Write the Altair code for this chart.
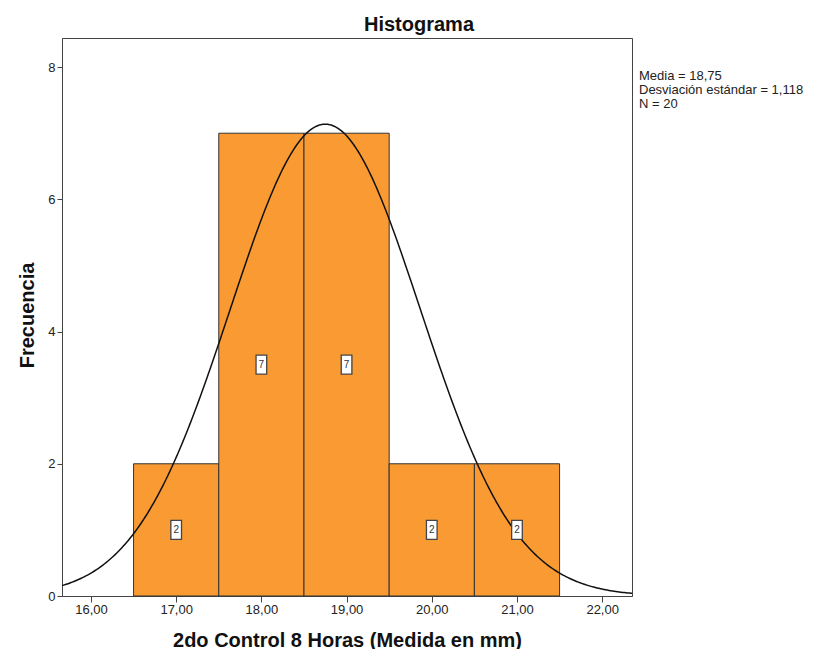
import altair as alt
import pandas as pd

# ---- data ----
bin_left = [16.5, 17.5, 18.5, 19.5, 20.5]
bin_right = [17.5, 18.5, 19.5, 20.5, 21.5]
bin_mid = [17.0, 18.0, 19.0, 20.0, 21.0]
counts = [2, 7, 7, 2, 2]
media = 18.75
desv = 1.118
n_total = 20
bin_width = 1.0
x_ticks = [16, 17, 18, 19, 20, 21, 22]
y_ticks = [0, 2, 4, 6, 8]
stats_lines = ["Media = 18,75", "Desviación estándar = 1,118", "N = 20"]
chart_title = ["Histograma"]
x_domain = [15.66, 22.35]
y_domain = [0, 8.44]

FONT = "Liberation Sans"

bars_df = pd.DataFrame({"left": bin_left, "right": bin_right, "mid": bin_mid,
                        "count": counts, "zero": [0] * len(counts)})
stats_df = pd.DataFrame({"line": stats_lines, "i": list(range(len(stats_lines)))})
title_df = pd.DataFrame({"t": chart_title})

xs = alt.Scale(domain=x_domain, nice=False, zero=False)
ys = alt.Scale(domain=y_domain, nice=False, zero=False)

x_axis = alt.Axis(values=x_ticks, labelExpr="replace(format(datum.value, '.2f'), '.', ',')",
                  labelFontSize=13, labelColor="#222", labelFont=FONT, tickSize=6,
                  labelPadding=1, grid=False, title="2do Control 8 Horas (Medida en mm)",
                  titleFont=FONT, titleFontSize=20, titleFontWeight="bold", titleColor="#111",
                  titleY=50, titleBaseline="alphabetic", domainColor="#444", tickColor="#444")
y_axis = alt.Axis(values=y_ticks, format="d", labelFontSize=13, labelColor="#222",
                  labelFont=FONT, tickSize=5, labelPadding=2, grid=False, title="Frecuencia",
                  titleFont=FONT, titleFontSize=20, titleFontWeight="bold", titleColor="#111",
                  titleX=-29, titleY=277, titleAngle=270, titleBaseline="alphabetic",
                  domainColor="#444", tickColor="#444")

bars = alt.Chart(bars_df).mark_rect(fill="#F99A33", stroke="#333", strokeWidth=1).encode(
    x=alt.X("left:Q", scale=xs, axis=x_axis),
    x2="right:Q",
    y=alt.Y("count:Q", scale=ys, axis=y_axis),
    y2="zero:Q",
)

curve = alt.Chart(alt.sequence(x_domain[0], x_domain[1] + 0.02, 0.02, as_="v")).transform_calculate(
    d=f"{n_total} * {bin_width} * densityNormal(datum.v, {media}, {desv})"
).mark_line(color="#111", strokeWidth=1.5, clip=True).encode(
    x=alt.X("v:Q", scale=xs),
    y=alt.Y("d:Q", scale=ys),
)

box_path = "M-0.28,-0.5L0.28,-0.5L0.28,0.5L-0.28,0.5Z"
boxes = alt.Chart(bars_df).transform_calculate(half="datum.count / 2").mark_point(
    shape=box_path, size=1444, filled=True, fill="white", stroke="#444",
    strokeWidth=1.3, opacity=1
).encode(x=alt.X("mid:Q", scale=xs), y=alt.Y("half:Q", scale=ys))

labels = alt.Chart(bars_df).transform_calculate(half="datum.count / 2").mark_text(
    fontSize=10, color="#333", font=FONT, baseline="middle", align="center"
).encode(x=alt.X("mid:Q", scale=xs), y=alt.Y("half:Q", scale=ys), text="count:Q")

stats = alt.Chart(stats_df).transform_calculate(py="42 + 14 * datum.i").mark_text(
    fontSize=13, color="#222", font=FONT, align="left", baseline="alphabetic"
).encode(x=alt.value(577), y=alt.Y("py:Q", scale=None), text="line:N")

title_mark = alt.Chart(title_df).mark_text(
    fontSize=20, fontWeight="bold", color="#111", font=FONT, align="center",
    baseline="alphabetic"
).encode(x=alt.value(357), y=alt.value(-7), text="t:N")

chart = alt.layer(bars, curve, boxes, labels, stats, title_mark).properties(
    width=570, height=558,
    autosize=alt.AutoSizeParams(type="none"),
    padding={"left": 54, "top": 30, "right": 192, "bottom": 53},
).configure_view(stroke="#444", strokeWidth=1)

chart.save("out.html", embed_options={"renderer": "svg", "actions": False})
